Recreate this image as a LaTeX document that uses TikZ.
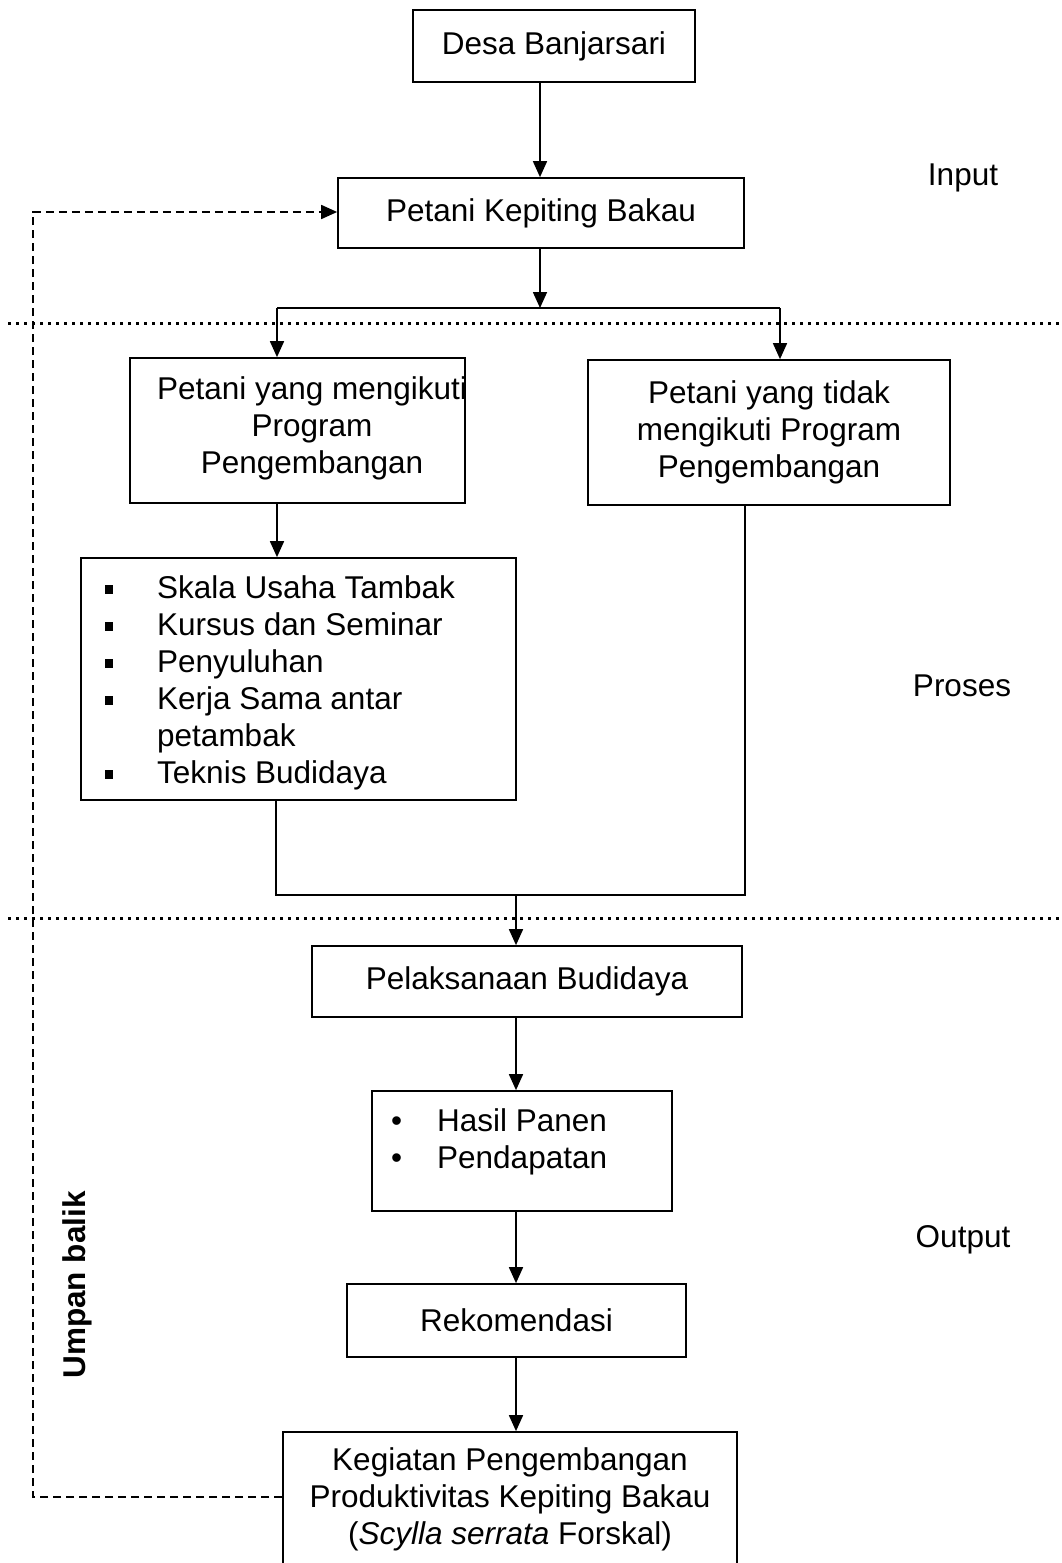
\documentclass[tikz,border=0pt]{standalone}
\usepackage{fontspec}
\setmainfont{Liberation Sans}
\usetikzlibrary{arrows.meta}
\newcommand{\bigfont}{\fontsize{31.5}{37}\selectfont}
\newcommand{\sqbul}{\raisebox{5pt}{\rule{8pt}{9pt}}}
\begin{document}
\begin{tikzpicture}[x=1pt,y=-1pt,
  box/.style={draw,line width=1.7pt,inner sep=0pt,align=center,font=\bigfont},
  txt/.style={inner sep=0pt,align=center,font=\bigfont},
  conn/.style={line width=1.7pt},
  arr/.style={line width=1.7pt,-{Triangle[length=16pt,width=14pt]}},
  dashline/.style={line width=1.7pt,dash pattern=on 8pt off 5pt},
  dotline/.style={line width=3pt,dash pattern=on 3pt off 5pt}]
\useasboundingbox (0,0) rectangle (1062,1563);
\fill[white] (0,0) rectangle (1062,1563);

% dotted separators
\coordinate (d1a) at (8,323);
\coordinate (d1b) at (1062,323);
\coordinate (d2a) at (8,918);
\coordinate (d2b) at (1062,918);
\draw[dotline] (d1a) -- (d1b);
\draw[dotline] (d2a) -- (d2b);

% boxes
\node[box,minimum width=282pt,minimum height=72pt] (desa) at (554,46) {Desa Banjarsari};
\node[box,minimum width=406pt,minimum height=70pt] (pkb) at (541,213) {Petani Kepiting Bakau};
\node[box,minimum width=335pt,minimum height=145pt] (left) at (297.5,430.5) {};
\node[txt] (lefttxt) at (312,428) {Petani yang mengikuti\\Program\\Pengembangan};
\node[box,minimum width=362pt,minimum height=145pt] (right) at (769,432.5) {Petani yang tidak\\mengikuti Program\\Pengembangan};
\node[box,minimum width=435pt,minimum height=242pt] (list) at (298.5,679) {};
\node[txt,anchor=west] (listtxt) at (105,684) {\begin{tabular}{@{}p{52pt}@{}l@{}}
\sqbul & Skala Usaha Tambak\\
\sqbul & Kursus dan Seminar\\
\sqbul & Penyuluhan\\
\sqbul & Kerja Sama antar\\
 & petambak\\
\sqbul & Teknis Budidaya
\end{tabular}};
\node[box,minimum width=430pt,minimum height=71pt] (pel) at (527,981.5) {Pelaksanaan Budidaya};
\node[box,minimum width=300pt,minimum height=120pt] (hasil) at (522,1151) {};
\node[txt,anchor=west] (hasiltxt) at (391,1143) {\begin{tabular}{@{}p{46pt}@{}l@{}}
\textbullet & Hasil Panen\\
\textbullet & Pendapatan
\end{tabular}};
\node[box,minimum width=339pt,minimum height=73pt] (rek) at (516.5,1320.5) {Rekomendasi};
\node[box,minimum width=454pt,minimum height=134pt] (keg) at (510,1499) {Kegiatan Pengembangan\\Produktivitas Kepiting Bakau\\(\textit{Scylla serrata} Forskal)};

% side labels
\node[txt] (input) at (963,178) {Input};
\node[txt] (proses) at (962,686) {Proses};
\node[txt] (output) at (963,1240) {Output};
\node[txt,font=\bigfont\bfseries,rotate=90] (umpan) at (77,1285) {Umpan balik};

% connectors
\coordinate (jC) at (540,308);
\coordinate (jL) at (277,308);
\coordinate (jR) at (780,308);
\coordinate (bL) at (276,895);
\coordinate (bR) at (745,895);
\coordinate (bM) at (516,895);
\coordinate (col) at (516,0);

\draw[arr] (desa.south -| jC) -- (pkb.north -| jC);
\draw[arr] (pkb.south -| jC) -- (jC);
\draw[conn] (jL) -- (jR);
\draw[arr] (jL) -- (left.north -| jL);
\draw[arr] (jR) -- (right.north -| jR);
\draw[arr] (left.south -| jL) -- (list.north -| jL);
\draw[conn] (list.south -| bL) -- (bL) -- (bR) -- (right.south -| bR);
\draw[arr] (bM) -- (pel.north -| bM);
\draw[arr] (pel.south -| col) -- (hasil.north -| col);
\draw[arr] (hasil.south -| col) -- (rek.north -| col);
\draw[arr] (rek.south -| col) -- (keg.north -| col);

% feedback
\coordinate (fb1) at (33,1497);
\coordinate (fb2) at (33,212);
\draw[dashline,-{Triangle[length=16pt,width=14pt]}] (keg.west |- fb1) -- (fb1) -- (fb2) -- (pkb.west |- fb2);
\end{tikzpicture}
\end{document}
